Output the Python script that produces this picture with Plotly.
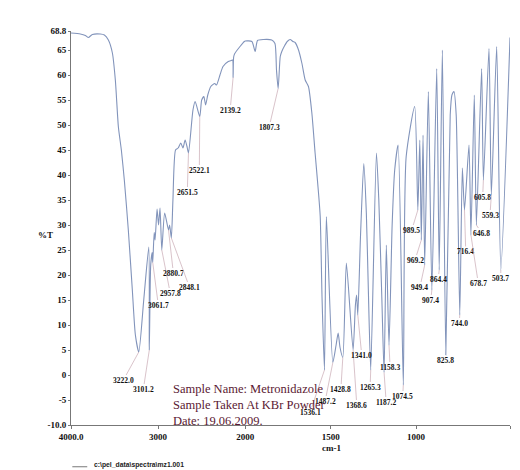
import plotly.graph_objects as go

# ---------------- data ----------------
wavenumber = [4000, 3893, 3835, 3800, 3755, 3663, 3617, 3571, 3525, 3491, 3456, 3422, 3388, 3342,
              3296, 3261, 3222.0, 3165, 3107, 3101.2, 3085, 3068, 3061.7, 3045, 3035, 3012, 2995,
              2978, 2957.8, 2925, 2880.7, 2868, 2848.1, 2830, 2800, 2770, 2740, 2715, 2690, 2670,
              2651.5, 2600, 2575, 2522.1, 2500, 2475, 2455, 2430, 2395, 2350, 2330, 2290, 2255,
              2195, 2160, 2145, 2139.2, 2133, 2120, 2060, 2010, 2000, 1961, 1942, 1928, 1893, 1845,
              1826, 1817, 1807.3, 1795, 1786, 1772, 1754, 1737, 1721, 1708, 1688, 1668, 1649, 1630,
              1610, 1591, 1571, 1561, 1550, 1536.1, 1525, 1487.2, 1468, 1456, 1445, 1428.8, 1408,
              1368.6, 1355, 1348, 1341.0, 1325, 1306, 1291, 1280, 1265.3, 1232, 1218, 1200, 1187.2,
              1174, 1158.3, 1140, 1125, 1105, 1074.5, 1058, 1008, 989.5, 978, 969.2, 959, 949.4,
              928, 907.4, 879, 864.4, 846, 825.8, 800, 790, 778, 765, 744.0, 729, 716.4, 690, 678.7,
              659, 646.8, 616, 605.8, 573, 559.3, 528, 503.7, 450]
transmittance = [68.4, 68.2, 67.9, 67.5, 68.1, 68.2, 68.0, 67.0, 64.4, 59, 49.6, 45, 39, 29,
                 17, 8, 4.6, 15, 25.6, 5, 22, 24.5, 22.5, 28.5, 27, 33.2, 30,
                 33.4, 25, 32.4, 29, 30, 27.4, 35, 45, 45.4, 46.4, 45.4, 47, 45.8,
                 44.4, 53, 54.7, 51.7, 55, 55.7, 54, 56, 57.7, 58.3, 58, 60, 61.7,
                 62.7, 62.9, 63, 59.5, 63.6, 64.3, 65.7, 66.7, 66.8, 66.7, 64.7, 66.9, 67.1, 67,
                 66.3, 61, 57.3, 63.7, 64.7, 65.7, 66.7, 67.1, 66.7, 66.5, 65, 62.3, 59, 57.7,
                 52.4, 44.4, 36.4, 31.7, 15, 1, 31.7, 2.5, 6, 8.4, 5.5, 3.5, 22.4,
                 5, 14, 16, 12, 28, 42.3, 32.4, 18, 1, 44.4, 35, 15, 0.5,
                 26, 6, 30, 41, 46, -2, 43.6, 53.7, 33, 47, 27, 48, 22,
                 56.7, 17, 61.3, 21, 65, 4, 52, 56, 56.7, 52, 12, 41.4, 33, 46, 28,
                 56, 30, 61.3, 39, 65.3, 36, 65.7, 21, 67.5]

peak_wn = [3222.0, 3101.2, 3061.7, 2957.8, 2880.7, 2848.1, 2651.5, 2522.1, 2139.2, 1807.3,
           1536.1, 1487.2, 1428.8, 1368.6, 1341.0, 1265.3, 1187.2, 1158.3, 1074.5, 989.5,
           969.2, 949.4, 907.4, 864.4, 825.8, 744.0, 716.4, 678.7, 646.8, 605.8, 559.3, 503.7]
peak_text = ["3222.0", "3101.2", "3061.7", "2957.8", "2880.7", "2848.1", "2651.5", "2522.1",
             "2139.2", "1807.3", "1536.1", "1487.2", "1428.8", "1368.6", "1341.0", "1265.3",
             "1187.2", "1158.3", "1074.5", "989.5", "969.2", "949.4", "907.4", "864.4", "825.8",
             "744.0", "716.4", "678.7", "646.8", "605.8", "559.3", "503.7"]

x_tick_wn = [4000, 3000, 2000, 1500, 1000, 450]
x_tick_text = ["4000.0", "3000", "2000", "1500", "1000", "450.0"]
y_tick_vals = [68.8, 65, 60, 55, 50, 45, 40, 35, 30, 25, 20, 15, 10, 5, 0, -5, -10]
y_tick_text = ["68.8", "65", "60", "55", "50", "45", "40", "35", "30", "25", "20", "15",
               "10", "5", "0", "-5", "-10.0"]

sample_lines = ["Sample Name: Metronidazole", "Sample Taken At KBr Powder", "Date: 19.06.2009."]
file_name = "c:\\pel_data\\spectra\\mz1.001"

# label placement (layout) : wavenumber-like position and %T position of each peak label
label_pos_wn = [3398, 3169, 2998, 2861, 2825, 2641, 2665, 2527, 2173, 1860,
                1620, 1532, 1440, 1347, 1318, 1269, 1175, 1152, 1078, 1025,
                1006, 977, 914, 870, 829, 747, 709, 636, 616, 610, 567, 505]
label_pos_t = [-1, -2.8, 14, 16.4, 20.4, 17.6, 36.6, 41, 53, 49.6,
               -7.4, -5.2, -2.8, -6, 4, -2.4, -5.4, 1.6, -4.2, 29,
               23, 17.6, 15, 19.2, 3, 10.4, 24.7, 18.4, 28.4, 35.6, 32, 19.4]

# the chart's x scale is compressed by ~2x above 2000 cm-1
def to_axis(w):
    return w if w <= 2000 else 2000 + (w - 2000) * 0.51

serif = "Liberation Serif, Times New Roman, serif"

fig = go.Figure()
fig.add_trace(go.Scatter(
    x=[to_axis(w) for w in wavenumber], y=transmittance, mode="lines",
    line=dict(color="#8294bb", width=1.1, shape="spline", smoothing=0.6),
    hoverinfo="skip", showlegend=False))

annotations = []
for w, txt, lw, lt in zip(peak_wn, peak_text, label_pos_wn, label_pos_t):
    t = transmittance[wavenumber.index(w)]
    annotations.append(dict(
        x=to_axis(w), y=t, xref="x", yref="y",
        ax=to_axis(lw), ay=lt, axref="x", ayref="y",
        text=txt, showarrow=True, arrowhead=0, arrowwidth=0.7,
        arrowcolor="#c9a9b3", standoff=0, startstandoff=0,
        font=dict(family=serif, size=7.5, color="#111111", weight="bold"),
        borderpad=0))

for i, line in enumerate(sample_lines):
    annotations.append(dict(
        x=0.228, y=0.091 - i * 0.0406, xref="paper", yref="paper",
        xanchor="left", yanchor="middle", showarrow=False, text=line,
        font=dict(family=serif, size=12.5, color="#5a1832")))

annotations.append(dict(x=-0.058, y=28, xref="paper", yref="y", text="%T",
                        showarrow=False, xanchor="center", yanchor="middle",
                        font=dict(family=serif, size=9, color="#111111", weight="bold")))
annotations.append(dict(x=1497, y=-0.058, xref="x", yref="paper", text="cm-1",
                        showarrow=False, xanchor="center", yanchor="middle",
                        font=dict(family=serif, size=9, color="#111111", weight="bold")))
annotations.append(dict(x=0.048, y=-0.101, xref="paper", yref="paper", text=file_name,
                        showarrow=False, xanchor="left", yanchor="middle",
                        font=dict(family="Liberation Sans, Arial, sans-serif", size=6.8,
                                  color="#222222", weight="bold")))

fig.update_layout(
    width=520, height=470, autosize=False,
    margin=dict(l=71, r=10, t=31, b=45),
    paper_bgcolor="white", plot_bgcolor="white",
    showlegend=False, annotations=annotations,
    shapes=[dict(type="line", xref="paper", yref="paper", x0=0.003, x1=0.037,
                 y0=-0.106, y1=-0.106, line=dict(color="#555555", width=0.8))],
    xaxis=dict(range=[to_axis(4000), 450], tickvals=[to_axis(w) for w in x_tick_wn],
               ticktext=x_tick_text, showgrid=False, zeroline=False, showline=True,
               linecolor="#777777", linewidth=1, ticks="outside", ticklen=3,
               tickcolor="#777777",
               tickfont=dict(family=serif, size=9, color="#111111", weight="bold")),
    yaxis=dict(range=[-10, 68.8], tickvals=y_tick_vals, ticktext=y_tick_text,
               showgrid=False, zeroline=False, showline=True, linecolor="#777777",
               linewidth=1, ticks="outside", ticklen=2, tickcolor="#777777",
               tickfont=dict(family=serif, size=9, color="#111111", weight="bold")),
)

fig.write_html("out.html")
